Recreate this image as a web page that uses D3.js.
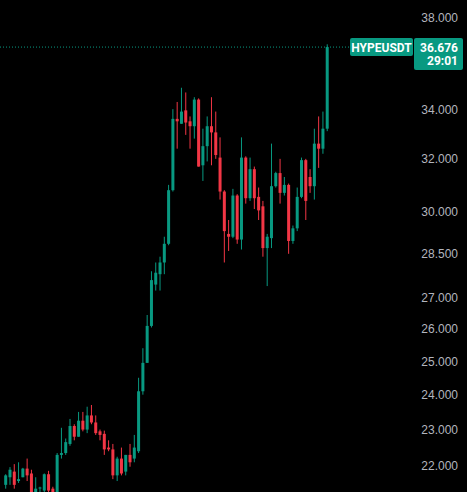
<!DOCTYPE html>
<html>
<head>
<meta charset="utf-8">
<script src="https://cdn.jsdelivr.net/npm/d3@7"></script>
<style>
  body { margin: 0; background: #000; }
  svg { display: block; font-family: Roboto, "Liberation Sans", sans-serif; }
</style>
</head>
<body>
<svg id="chart" width="467" height="492"></svg>
<script>
// candles: open, close, high, low
var opens  = [21.5,21.7,21.85,21.6,21.7,21.93,21.8,21.3,21.42,21.35,21.78,21.4,21.0,22.3,22.35,22.6,23.1,22.8,23.25,23.0,23.4,23.2,22.95,22.88,22.5,22.45,21.75,22.2,21.85,22.3,22.2,22.4,
  24.1,24.95,26.1,27.45,27.8,28.2,28.85,30.8,33.6,33.4,33.95,33.5,33.3,34.4,31.75,32.5,33.3,33.05,32.05,30.75,29.2,29.1,30.6,29.0,32.05,
  30.5,31.6,30.55,30.2,28.7,29.05,30.95,31.45,30.7,31.0,28.95,29.4,30.55,31.95,31.3,30.95,32.6,32.4,33.2];
var closes = [21.75,21.9,21.5,21.65,21.93,21.75,21.3,21.4,21.43,21.78,21.35,21.3,22.3,22.35,22.65,23.1,22.8,23.25,23.0,23.4,23.2,22.9,22.85,22.45,22.45,21.75,22.2,21.8,22.3,22.1,22.5,24.1,
  24.95,26.1,27.6,27.85,28.2,28.85,30.8,33.6,33.5,33.9,33.45,33.3,34.4,31.7,32.5,33.3,33.05,32.15,30.75,29.3,29.1,30.6,29.0,32.05,30.5,
  31.6,30.5,30.05,28.7,29.1,30.95,31.45,30.7,31.0,28.95,29.4,30.55,31.95,30.4,30.95,32.6,32.4,33.2,36.676];
var highs  = [21.78,21.97,22.05,22.1,21.95,22.2,21.9,21.7,21.45,21.8,21.87,21.45,22.35,23.05,22.75,23.3,23.15,23.5,23.5,23.65,23.7,23.4,23.0,22.97,22.7,22.6,22.25,22.5,22.3,22.6,22.85,24.5,
  25.4,26.45,27.9,28.2,28.4,29.1,31.0,34.0,34.3,34.9,34.7,33.7,34.5,34.45,33.2,33.7,34.5,33.9,32.85,30.8,29.7,30.85,30.65,32.85,32.1,
  32.05,31.7,30.9,30.4,29.2,32.6,31.5,32.0,31.3,31.05,29.5,30.9,32.05,32.0,31.6,33.2,33.7,33.9,36.8];
var lows   = [21.4,21.5,21.4,21.55,21.7,21.6,21.2,21.2,21.3,21.3,21.3,21.2,21.0,22.2,22.3,22.55,22.7,22.8,22.95,22.9,23.15,22.85,22.7,22.3,22.4,21.65,21.6,21.75,21.75,21.98,22.1,22.35,
  24.0,24.95,26.05,27.25,27.25,27.8,28.8,30.75,32.4,33.4,32.95,32.4,32.8,31.7,31.15,31.9,31.75,32.0,30.45,28.2,28.6,29.05,28.85,28.65,30.3,
  30.4,30.1,29.7,28.4,27.4,28.7,30.9,30.3,30.6,28.5,28.85,29.3,30.5,29.7,30.7,30.45,31.65,32.2,33.1];
var tickValues = [22, 23, 24, 25, 26, 27, 28.5, 30, 32, 34, 38];
var symbol = "HYPEUSDT";
var lastPrice = 36.676;
var countdown = "29:01";

var green = "#089981", red = "#f23645";
var svg = d3.select("#chart");

var x = d3.scaleBand()
  .domain(d3.range(opens.length))
  .range([4.2, 4.2 + opens.length * 4.27])
  .paddingInner(0.3);
var y = d3.scaleLog().domain([22, 38]).range([466, 18]);

// price axis on the right
var axis = svg.append("g")
  .attr("transform", "translate(458,0)")
  .call(d3.axisLeft(y).tickValues(tickValues).tickSize(0).tickFormat(d3.format(".3f")));
axis.select(".domain").remove();
axis.selectAll("text").attr("fill", "#b2b5be").attr("font-size", 12).attr("x", 0);

// last price line
svg.append("line")
  .attr("x1", 0).attr("x2", 350)
  .attr("y1", y(lastPrice)).attr("y2", y(lastPrice))
  .attr("stroke", green).attr("stroke-dasharray", "1,2");

var candles = svg.append("g").selectAll("g")
  .data(opens.map(function (o, i) { return { o: o, c: closes[i], h: highs[i], l: lows[i], i: i }; }))
  .join("g")
  .attr("fill", function (d) { return d.c >= d.o ? green : red; })
  .attr("stroke", function (d) { return d.c >= d.o ? green : red; });

candles.append("line")
  .attr("x1", function (d) { return x(d.i) + x.bandwidth() / 2; })
  .attr("x2", function (d) { return x(d.i) + x.bandwidth() / 2; })
  .attr("y1", function (d) { return y(d.h); })
  .attr("y2", function (d) { return y(d.l); })
  .attr("stroke-width", 1);

candles.append("rect")
  .attr("stroke", "none")
  .attr("x", function (d) { return x(d.i); })
  .attr("width", x.bandwidth())
  .attr("y", function (d) { return y(Math.max(d.o, d.c)); })
  .attr("height", function (d) { return Math.max(1, Math.abs(y(d.o) - y(d.c))); });

// labels
var ly = y(lastPrice);
svg.append("rect").attr("x", 350).attr("y", ly - 9).attr("width", 63).attr("height", 18).attr("rx", 2).attr("fill", green);
svg.append("text").attr("x", 381.5).attr("y", ly + 4.5).attr("text-anchor", "middle")
  .attr("fill", "#fff").attr("font-size", 12).attr("font-weight", "bold").text(symbol);
svg.append("rect").attr("x", 414).attr("y", ly - 9).attr("width", 49).attr("height", 32).attr("rx", 2).attr("fill", green);
svg.append("text").attr("x", 458).attr("y", ly + 4.5).attr("text-anchor", "end")
  .attr("fill", "#fff").attr("font-size", 12).attr("font-weight", "bold").text(d3.format(".3f")(lastPrice));
svg.append("text").attr("x", 458).attr("y", ly + 18).attr("text-anchor", "end")
  .attr("fill", "#fff").attr("font-size", 12).attr("font-weight", "bold").text(countdown);
</script>
</body>
</html>
